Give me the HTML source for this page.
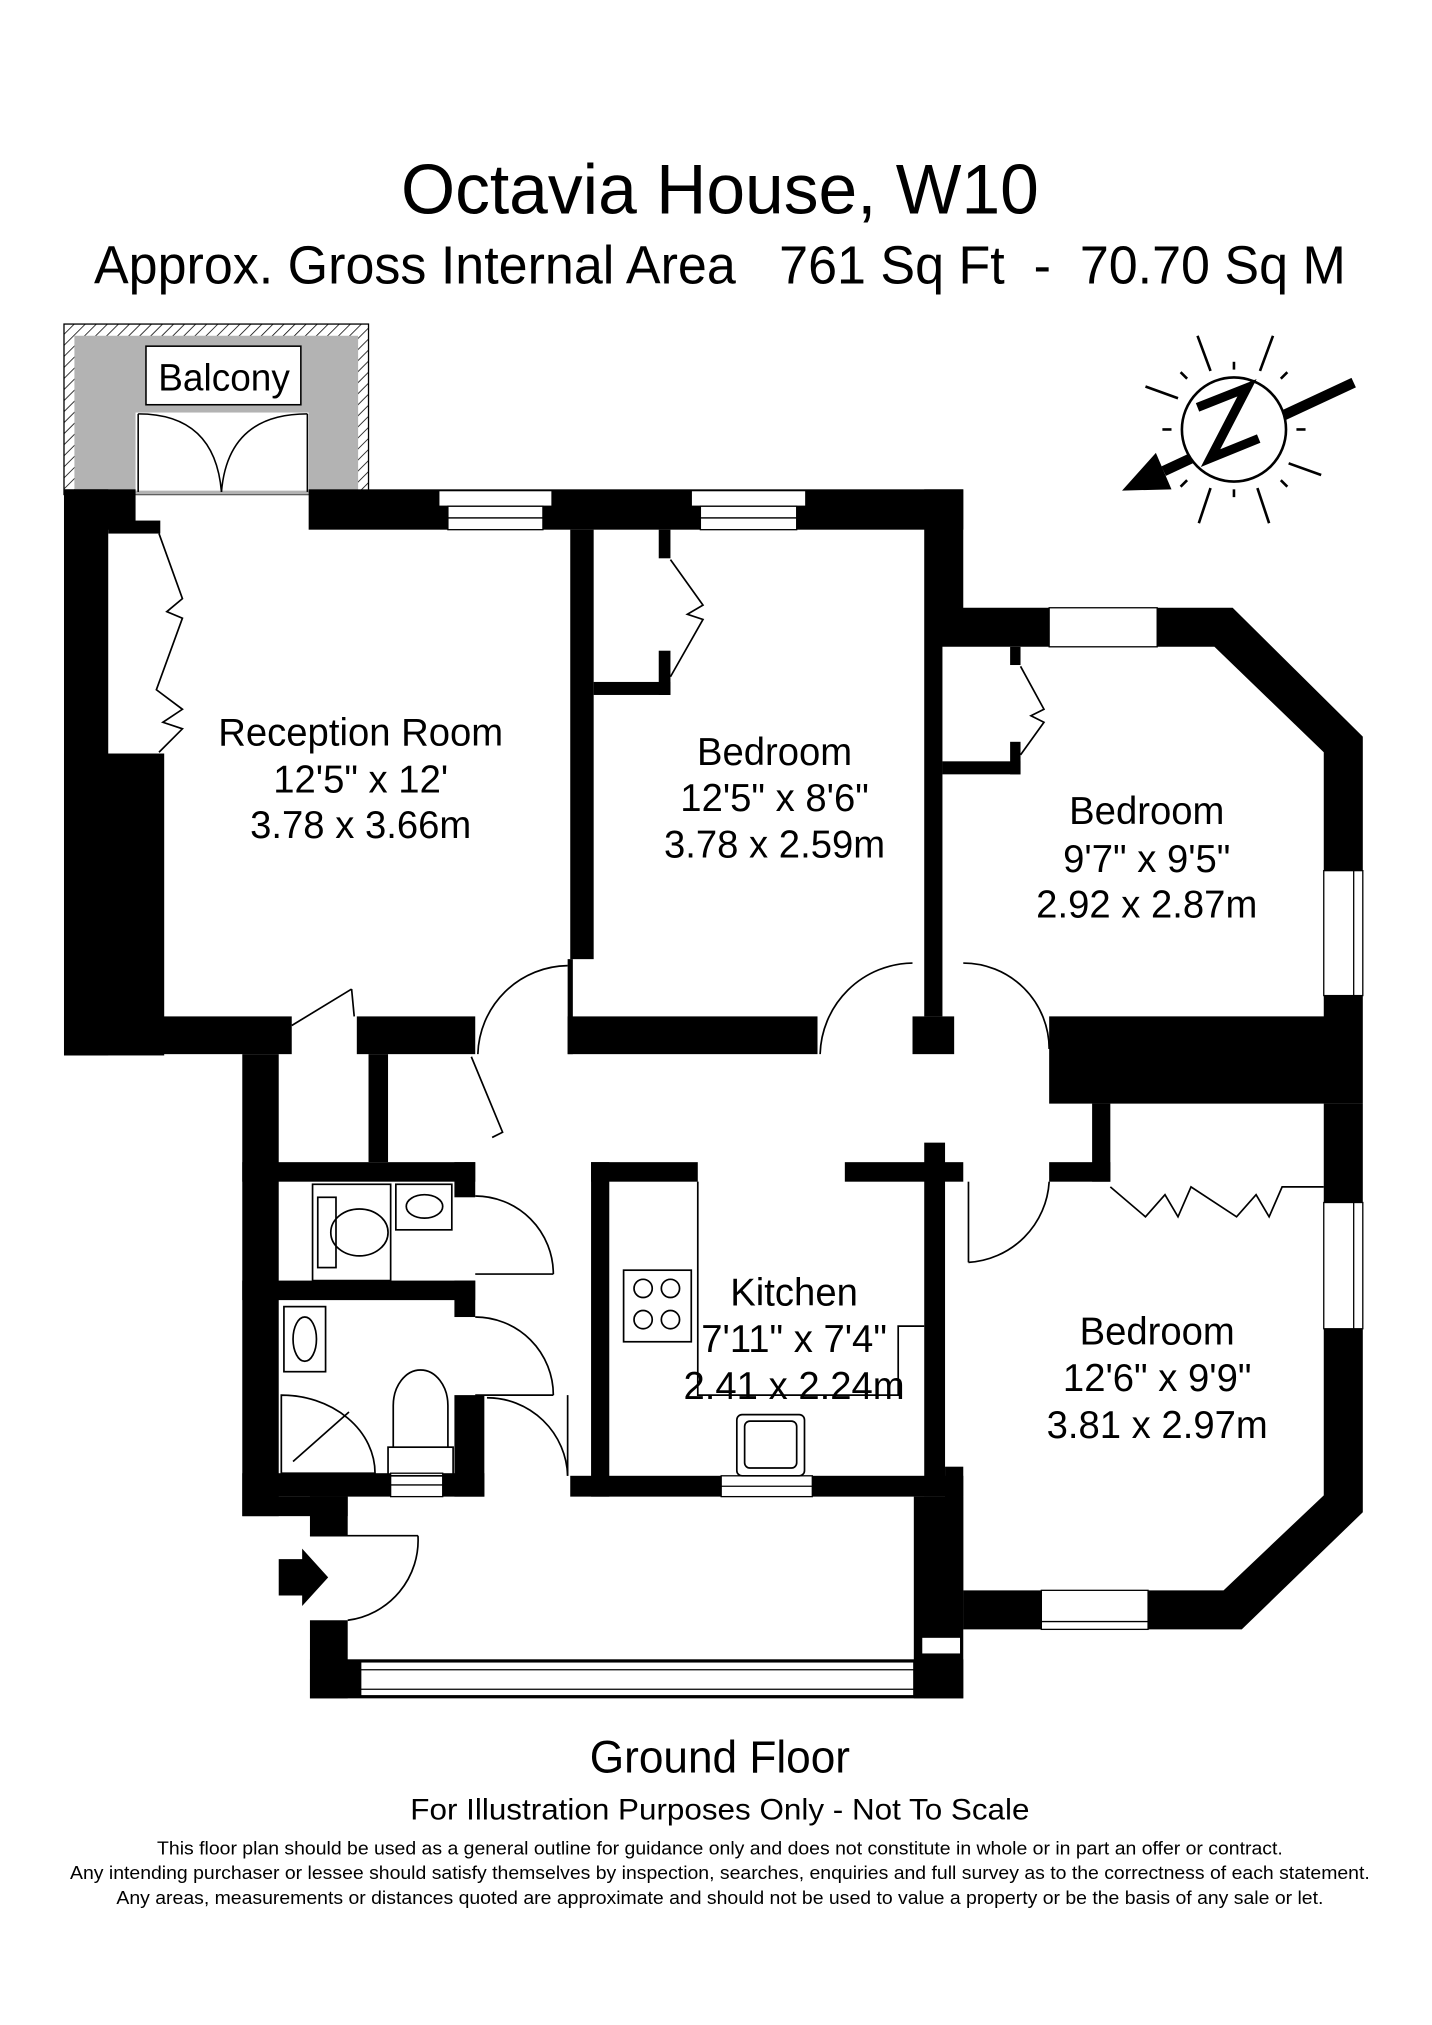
<!DOCTYPE html>
<html><head><meta charset="utf-8"><style>
html,body{margin:0;padding:0;background:#fff;}
svg{display:block}
text{font-family:"Liberation Sans",sans-serif;fill:#000;white-space:pre;}
</style></head><body>
<svg width="1432" height="2025" viewBox="0 0 1100 1556" xmlns="http://www.w3.org/2000/svg" xml:space="preserve">
<defs>
<pattern id="h" width="6" height="6" patternUnits="userSpaceOnUse" patternTransform="rotate(45)"><line x1="0" y1="0" x2="0" y2="6" stroke="#000" stroke-width="1.2"/></pattern>
</defs>
<rect width="1100" height="1556" fill="#fff"/>
<text x="553" y="164" font-size="54" text-anchor="middle" transform="translate(553 0) scale(0.99 1) translate(-553 0)">Octavia House, W10</text>
<text x="553" y="218" font-size="41" text-anchor="middle" transform="translate(553 0) scale(0.975 1) translate(-553 0)">Approx. Gross Internal Area   761 Sq Ft  -  70.70 Sq M</text>

<rect x="49" y="249" width="234" height="131" fill="url(#h)" stroke="#000" stroke-width="1"/>
<rect x="57" y="258" width="218" height="122" fill="#b3b3b3"/>
<rect x="104" y="317" width="133" height="60" fill="#fff"/>
<rect x="112" y="266" width="119" height="45" fill="#fff" stroke="#000" stroke-width="1.2"/>
<text x="172" y="300" font-size="29" text-anchor="middle" transform="translate(172 0) scale(0.98 1) translate(-172 0)">Balcony</text>
<g fill="none" stroke="#000" stroke-width="1.2">
<line x1="106" y1="318" x2="106" y2="378"/><line x1="236" y1="318" x2="236" y2="378"/>
<path d="M106,318 Q165,318 170,378"/><path d="M236,318 Q175,318 170,378"/>
</g>

<g fill="#000">
<rect x="49" y="376" width="55" height="31"/>
<rect x="237" y="376" width="503" height="31"/>
<rect x="49" y="376" width="34" height="435"/>
<rect x="49" y="579" width="77" height="232"/>
<rect x="83" y="400" width="40" height="10"/>
<rect x="49" y="781" width="175" height="29"/>
<rect x="274" y="781" width="91" height="29"/>
<rect x="438" y="407" width="18" height="330"/>
<rect x="436" y="737" width="4" height="73"/>
<rect x="436" y="781" width="192" height="29"/>
<rect x="456" y="524" width="59" height="10"/>
<rect x="506" y="407" width="9" height="22"/><rect x="506" y="500" width="9" height="34"/>
<polygon points="710,376 740,376 740,467 947,467 1047,566 1047,848 806,848 806,781 1017,781 1017,578 933,497 724,497 724,781 710,781"/>
<rect x="701" y="781" width="32" height="29"/>
<rect x="724" y="585" width="60" height="10"/>
<rect x="776" y="497" width="8" height="14"/><rect x="776" y="570" width="8" height="25"/>
<rect x="186" y="810" width="28" height="355"/>
<rect x="283" y="810" width="15" height="83"/>
<rect x="186" y="893" width="179" height="15"/>
<rect x="349" y="893" width="16" height="27"/>
<rect x="186" y="984" width="179" height="15"/>
<rect x="349" y="984" width="16" height="28"/>
<rect x="349" y="1072" width="23" height="78"/>
<rect x="186" y="1132" width="186" height="18"/>
<rect x="454" y="893" width="14" height="257"/>
<rect x="454" y="893" width="82" height="15"/>
<rect x="649" y="893" width="91" height="15"/>
<rect x="710" y="878" width="16" height="272"/>
<rect x="438" y="1134" width="302" height="16"/>
<rect x="839" y="848" width="14" height="60"/>
<rect x="806" y="893" width="47" height="15"/>
<polygon points="1017,848 1047,848 1047,1162 954,1252 740,1252 740,1222 940,1222 1017,1149"/>
<rect x="726" y="1127" width="14" height="125"/>
<rect x="186" y="1150" width="81" height="15"/>
<rect x="238" y="1150" width="29" height="30"/>
<rect x="238" y="1245" width="29" height="60"/>
<rect x="238" y="1275" width="502" height="30"/>
<rect x="702" y="1150" width="38" height="155"/>
</g>

<g fill="#fff" stroke="#000" stroke-width="1">
<rect x="337" y="377" width="87" height="12"/><rect x="344" y="389" width="73" height="9"/><rect x="344" y="398" width="73" height="9"/>
<rect x="531" y="377" width="88" height="12"/><rect x="538" y="389" width="74" height="9"/><rect x="538" y="398" width="74" height="9"/>
<rect x="806" y="467" width="83" height="30"/>
<rect x="1017" y="669" width="30" height="96"/><line x1="1040" y1="669" x2="1040" y2="765"/>
<rect x="1017" y="924" width="30" height="97"/><line x1="1040" y1="924" x2="1040" y2="1021"/>
<rect x="554" y="1134" width="70" height="16"/><line x1="554" y1="1142" x2="624" y2="1142"/>
<rect x="800" y="1222" width="82" height="30"/><line x1="800" y1="1246" x2="882" y2="1246"/>
<rect x="277" y="1277" width="425" height="26"/><line x1="277" y1="1283" x2="702" y2="1283"/><line x1="277" y1="1298" x2="702" y2="1298"/>
<rect x="708" y="1258" width="30" height="13"/>
<rect x="300" y="1132" width="40" height="18"/><line x1="300" y1="1141" x2="340" y2="1141"/>
</g>

<g fill="none" stroke="#000" stroke-width="1.3">
<polyline points="122,410 140,460 128,470 140,475 120,530 140,545 125,555 140,560 122,578"/>
<polyline points="515,430 540,465 528,472 540,476 515,520"/>
<polyline points="784,512 802,545 792,550 802,555 784,580"/>
<polyline points="853,912 880,935 895,918 905,935 915,912 950,935 965,918 975,935 985,912 1017,912"/>
<path d="M436,742 A70,70 0 0 0 367,810"/>
<path d="M701,740 A72,72 0 0 0 630,810"/>
<path d="M740,740 A66,66 0 0 1 806,806"/>
<line x1="224" y1="788" x2="270" y2="760"/><line x1="270" y1="760" x2="272" y2="781"/>
<polyline points="362,812 386,870 378,874"/>
<path d="M365,919 A60,60 0 0 1 425,979"/><line x1="365" y1="979" x2="425" y2="979"/>
<path d="M365,1012 A60,60 0 0 1 425,1072"/><line x1="365" y1="1072" x2="425" y2="1072"/>
<path d="M374,1074 A62,62 0 0 1 436,1134"/><line x1="436" y1="1072" x2="436" y2="1134"/>
<path d="M806,908 A66,66 0 0 1 744,970"/><line x1="744" y1="908" x2="744" y2="970"/>
<path d="M321,1180 A62,62 0 0 1 267,1245"/><line x1="238" y1="1180" x2="321" y2="1180"/>
<rect x="240" y="910" width="60" height="74"/><rect x="244" y="920" width="14" height="54"/><ellipse cx="276" cy="947" rx="22" ry="18"/>
<rect x="304" y="910" width="43" height="35"/><ellipse cx="326" cy="927" rx="14" ry="9"/>
<rect x="218" y="1004" width="32" height="50"/><ellipse cx="234" cy="1029" rx="9" ry="17"/>
<path d="M216,1072 A72,60 0 0 1 288,1132 L216,1132 Z"/><line x1="225" y1="1123" x2="268" y2="1085"/>
<rect x="298" y="1112" width="50" height="22"/><path d="M302,1112 L302,1080 A20,26 0 0 1 344,1080 L344,1112"/>
<polyline points="536,908 536,1072 690,1072 690,1019 710,1019"/>
<rect x="479" y="976" width="52" height="55"/>
<circle cx="494" cy="990" r="7"/><circle cx="515" cy="990" r="7"/><circle cx="494" cy="1014" r="7"/><circle cx="515" cy="1014" r="7"/>
<rect x="566" y="1087" width="52" height="47" rx="4"/><rect x="572" y="1092" width="40" height="36" rx="4"/>
</g>

<polygon points="214,1198 232,1198 232,1190 252,1212 232,1234 232,1226 214,1226" fill="#000"/>

<g stroke="#000" fill="none">
<line x1="1040" y1="294" x2="894" y2="362" stroke-width="8"/>
<polygon points="862,377 900,376 888,348" fill="#000" stroke="none"/>
<circle cx="948" cy="330" r="40" fill="#fff" stroke-width="2"/>
<polyline points="920,313 958,298 930,352 967,337" stroke-width="7" stroke-linejoin="miter"/>
<g stroke-width="2">
<line x1="948" y1="278" x2="948" y2="284"/><line x1="948" y1="376" x2="948" y2="382"/>
<line x1="900" y1="330" x2="893" y2="330"/><line x1="996" y1="330" x2="1003" y2="330"/>
<line x1="930" y1="285" x2="920" y2="258"/><line x1="968" y1="285" x2="978" y2="258"/>
<line x1="930" y1="375" x2="921" y2="402"/><line x1="966" y1="375" x2="975" y2="402"/>
<line x1="905" y1="306" x2="880" y2="297"/><line x1="990" y1="356" x2="1015" y2="365"/>
<line x1="912" y1="291" x2="907" y2="286"/><line x1="984" y1="291" x2="989" y2="286"/>
<line x1="912" y1="369" x2="907" y2="374"/><line x1="984" y1="369" x2="989" y2="374"/>
</g></g>

<g font-size="30" text-anchor="middle">
<g transform="translate(277 0) scale(0.98 1) translate(-277 0)"><text x="277" y="573">Reception Room</text><text x="277" y="609">12'5" x 12'</text><text x="277" y="644">3.78 x 3.66m</text></g>
<g transform="translate(595 0) scale(0.98 1) translate(-595 0)"><text x="595" y="588">Bedroom</text><text x="595" y="623">12'5" x 8'6"</text><text x="595" y="659">3.78 x 2.59m</text></g>
<g transform="translate(881 0) scale(0.98 1) translate(-881 0)"><text x="881" y="633">Bedroom</text><text x="881" y="670">9'7" x 9'5"</text><text x="881" y="705">2.92 x 2.87m</text></g>
<g transform="translate(610 0) scale(0.98 1) translate(-610 0)"><text x="610" y="1003">Kitchen</text><text x="610" y="1039">7'11" x 7'4"</text><text x="610" y="1075">2.41 x 2.24m</text></g>
<g transform="translate(889 0) scale(0.98 1) translate(-889 0)"><text x="889" y="1033">Bedroom</text><text x="889" y="1069">12'6" x 9'9"</text><text x="889" y="1105">3.81 x 2.97m</text></g>
</g>

<g text-anchor="middle">
<text x="553" y="1362" font-size="35" transform="translate(553 0) scale(0.97 1) translate(-553 0)">Ground Floor</text>
<text x="553" y="1398" font-size="23" transform="translate(553 0) scale(1.05 1) translate(-553 0)">For Illustration Purposes Only - Not To Scale</text>
<g font-size="14.5" transform="translate(553 0) scale(1.03 1) translate(-553 0)">
<text x="553" y="1425">This floor plan should be used as a general outline for guidance only and does not constitute in whole or in part an offer or contract.</text>
<text x="553" y="1444">Any intending purchaser or lessee should satisfy themselves by inspection, searches, enquiries and full survey as to the correctness of each statement.</text>
<text x="553" y="1463">Any areas, measurements or distances quoted are approximate and should not be used to value a property or be the basis of any sale or let.</text>
</g></g>
</svg>
</body></html>
